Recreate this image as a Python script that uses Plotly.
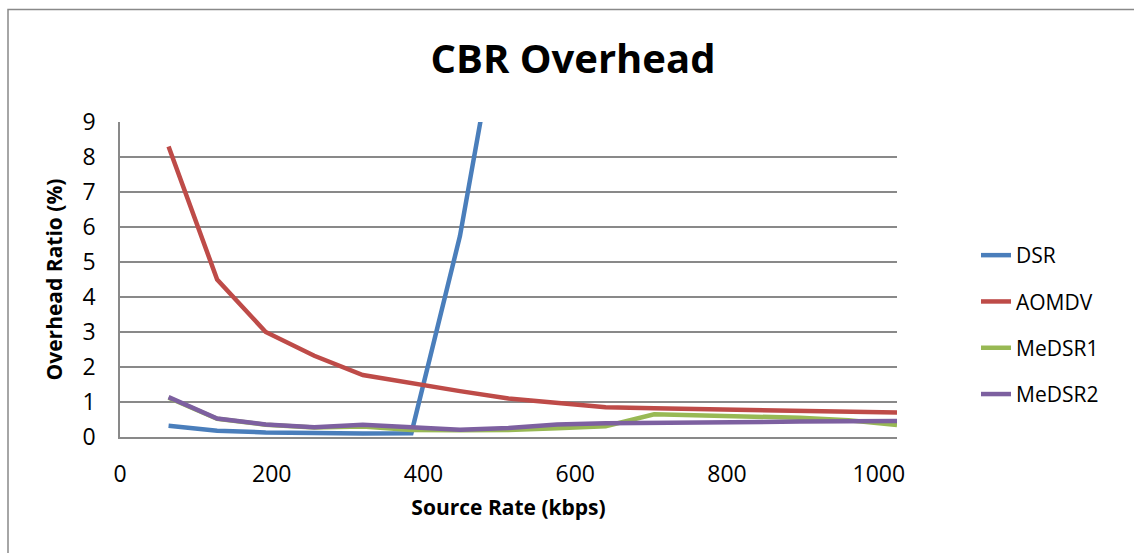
import plotly.graph_objects as go

# Source rate in kbps
source_rate = [64, 128, 192, 256, 320, 384, 448, 512, 576, 640, 704, 768, 832, 896, 960, 1024]

# Overhead ratio (%) per protocol
dsr = [0.32, 0.18, 0.13, 0.10, 0.10, 0.11, 5.74, 13.5, None, None, None, None, None, None, None, None]
aomdv = [8.3, 4.5, 3.0, 2.32, 1.77, 1.53, 1.31, 1.10, 0.97, 0.85, 0.82, 0.80, 0.77, 0.75, 0.72, 0.70]
medsr1 = [1.12, 0.52, 0.35, 0.27, 0.30, 0.20, 0.19, 0.20, 0.25, 0.31, 0.65, 0.62, 0.59, 0.55, 0.48, 0.34]
medsr2 = [1.14, 0.53, 0.36, 0.28, 0.35, 0.29, 0.21, 0.26, 0.36, 0.39, 0.41, 0.42, 0.43, 0.44, 0.45, 0.46]

series_names = ["DSR", "AOMDV", "MeDSR1", "MeDSR2"]
series_values = [dsr, aomdv, medsr1, medsr2]
series_colors = ["#4A7EBB", "#BE4B48", "#98B954", "#7D60A0"]

x_ticks = [0, 200, 400, 600, 800, 1000]
y_ticks = list(range(0, 10))

FONT = "Open Sans"
GRID = "#898989"

fig = go.Figure()
for name, vals, color in zip(series_names, series_values, series_colors):
    fig.add_trace(go.Scatter(
        x=source_rate, y=vals, name=name, mode="lines",
        line=dict(color=color, width=4.5),
        legendgroup=name,
    ))

W, H = 1134, 553
L, R, T, B = 120, 237, 122, 116
pw, ph = W - L - R, H - T - B

def px_x(p):
    return (p - L) / pw

def px_y(p):
    return (H - B - p) / ph

fig.update_layout(
    width=W, height=H,
    margin=dict(l=L, r=R, t=T, b=B),
    paper_bgcolor="white", plot_bgcolor="white",
    font=dict(family=FONT, color="black"),
    title=dict(
        text="<b>CBR Overhead</b>",
        font=dict(family=FONT, size=40, color="black"),
        x=573 / W, xref="container", xanchor="center",
        y=1 - 59 / H, yref="container", yanchor="middle",
    ),
    xaxis=dict(
        range=[0, 1024],
        tickvals=x_ticks,
        ticktext=[str(v) for v in x_ticks],
        showgrid=False, zeroline=False,
        showline=True, linecolor=GRID, linewidth=1.5,
        ticks="", ticklabelstandoff=16,
        tickfont=dict(family=FONT, size=23, color="black"),
        title=dict(text="<b>Source Rate (kbps)</b>",
                   font=dict(family=FONT, size=21, color="black"),
                   standoff=12),
    ),
    yaxis=dict(
        range=[0, 9],
        tickvals=y_ticks,
        showgrid=True, gridcolor=GRID, gridwidth=1.5,
        zeroline=False,
        showline=True, linecolor=GRID, linewidth=1.5,
        ticks="", ticklabelstandoff=18,
        tickfont=dict(family=FONT, size=23, color="black"),
        title=dict(text="<b>Overhead Ratio (%)</b>",
                   font=dict(family=FONT, size=21, color="black"),
                   standoff=14),
    ),
    legend=dict(
        x=px_x(976), xanchor="left",
        y=px_y(325), yanchor="middle",
        font=dict(family=FONT, size=21, color="black"),
        tracegroupgap=16,
        bgcolor="rgba(0,0,0,0)",
    ),
    showlegend=True,
)

# chart-area frame
fig.add_shape(
    type="rect", xref="paper", yref="paper",
    x0=px_x(8), x1=px_x(1145), y0=px_y(570), y1=px_y(9.5),
    line=dict(color=GRID, width=1.5), fillcolor="rgba(0,0,0,0)", layer="below",
)

fig.write_html("out.html")
